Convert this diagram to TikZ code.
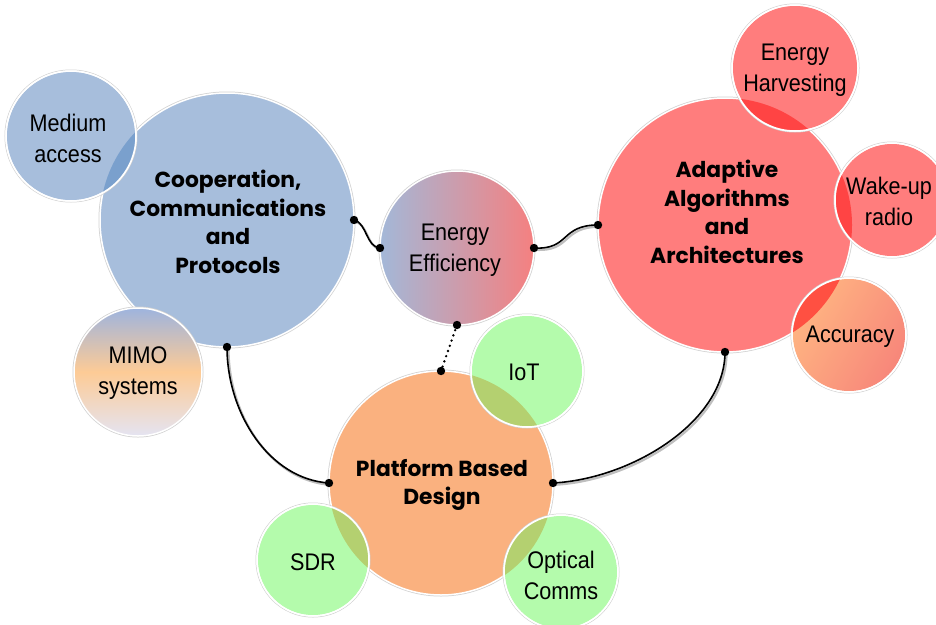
\documentclass[tikz,border=0pt]{standalone}
\usepackage{fontspec}
\setmainfont{Liberation Sans}[FakeStretch=0.9]
\newfontfamily\geo{Poppins}
\definecolor{cblue}{RGB}{167,190,220}
\definecolor{cbluelens}{RGB}{122,160,205}
\definecolor{cred}{RGB}{255,125,125}
\definecolor{credlens}{RGB}{255,68,68}
\definecolor{corange}{RGB}{250,177,127}
\definecolor{cgreen}{RGB}{180,251,172}
\definecolor{cgreenlens}{RGB}{180,208,112}
\definecolor{ceeL}{RGB}{163,184,216}
\definecolor{ceeR}{RGB}{245,128,128}
\definecolor{cmimoT}{RGB}{158,180,222}
\definecolor{cmimoM}{RGB}{253,203,150}
\definecolor{cmimoB}{RGB}{228,228,242}
\definecolor{caccA}{RGB}{255,182,130}
\definecolor{caccB}{RGB}{247,134,122}
\definecolor{cacclens}{RGB}{255,80,66}
\tikzset{
  bub/.style={circle, inner sep=0pt, outer sep=0pt, draw=white, line width=1.5pt,
    preaction={draw=black!18, line width=3pt}},
  lbl/.style={align=center, font=\fontsize{24}{31}\selectfont},
  blbl/.style={align=center, font=\geo\bfseries\fontsize{21.8}{28.5}\selectfont},
  con/.style={line width=1.6pt, black},
  conshadow/.style={line width=2.2pt, black!25, transform canvas={shift={(1.5pt,-1.8pt)}}},
  dotcon/.style={line width=2.6pt, line cap=round, dash pattern=on 0pt off 5.5pt},
  border/.style={draw=white, line width=1.5pt}
}
\begin{document}
\begin{tikzpicture}[x=1pt,y=-1pt]
\useasboundingbox (0,0) rectangle (936,624);
% big circles
\node[bub, fill=cblue, minimum size=254pt] (coop) at (227,220) {};
\node[bub, fill=cred, minimum size=254pt] (adapt) at (725,225) {};
\node[bub, fill=corange, minimum size=224pt] (plat) at (441,483) {};
\node[bub, left color=ceeL, right color=ceeR, minimum size=154pt] (ee) at (457,248) {};
% small circles
\node[bub, fill=cblue, minimum size=130pt] (ma) at (71,136) {};
\node[bub, top color=cmimoT, bottom color=cmimoB, middle color=cmimoM, minimum size=128pt] (mimo) at (138,372) {};
\node[bub, fill=cred, minimum size=126pt] (eh) at (795,68) {};
\node[bub, fill=cred, minimum size=114pt] (wake) at (892,200) {};
\node[bub, left color=caccA, right color=caccB, shading angle=60, minimum size=114pt] (acc) at (849,335) {};
\node[bub, fill=cgreen, minimum size=112pt] (iot) at (527,371) {};
\node[bub, fill=cgreen, minimum size=112pt] (sdr) at (313,560) {};
\node[bub, fill=cgreen, minimum size=114pt] (opt) at (561,572) {};
% overlaps
\begin{scope}
  \clip (coop.center) circle[radius=127];
  \fill[cbluelens] (ma.center) circle[radius=65];
\end{scope}
\begin{scope}
  \clip (adapt.center) circle[radius=127];
  \fill[credlens] (eh.center) circle[radius=63];
  \fill[credlens] (wake.center) circle[radius=57];
  \fill[cacclens] (acc.center) circle[radius=57];
\end{scope}
\begin{scope}
  \clip (plat.center) circle[radius=112];
  \fill[cgreenlens] (iot.center) circle[radius=56];
  \fill[cgreenlens] (sdr.center) circle[radius=56];
  \fill[cgreenlens] (opt.center) circle[radius=57];
\end{scope}
\draw[border] (ma.center) circle[radius=65];
\draw[border] (eh.center) circle[radius=63];
\draw[border] (wake.center) circle[radius=57];
\draw[border] (acc.center) circle[radius=57];
\draw[border] (iot.center) circle[radius=56];
\draw[border] (sdr.center) circle[radius=56];
\draw[border] (opt.center) circle[radius=57];
% connectors (shadows)
\draw[conshadow] (coop.east) .. controls +(13,3) and +(-14,-1) .. (ee.west);
\draw[conshadow] (ee.east) .. controls +(36,2) and +(-38,0) .. (adapt.west);
\draw[conshadow] (coop.south) .. controls +(0,66) and +(-60,-4) .. (plat.west);
\draw[conshadow] (adapt.south) .. controls +(0,70) and +(78,-4) .. (plat.east);
% connectors
\draw[con] (coop.east) .. controls +(13,3) and +(-14,-1) .. (ee.west);
\draw[con] (ee.east) .. controls +(36,2) and +(-38,0) .. (adapt.west);
\draw[con] (coop.south) .. controls +(0,66) and +(-60,-4) .. (plat.west);
\draw[con] (adapt.south) .. controls +(0,70) and +(78,-4) .. (plat.east);
\draw[dotcon] (ee.south) -- (plat.north);
\foreach \p in {coop.east, ee.west, ee.east, adapt.west, coop.south, plat.west, adapt.south, plat.east, ee.south, plat.north}
  \fill (\p) circle[radius=4.2];
% labels
\node[blbl] (tcoop) at (228,222) {Cooperation,\\Communications\\and\\Protocols};
\node[blbl] (tadapt) at (727,212) {Adaptive\\Algorithms\\and\\Architectures};
\node[blbl] (tplat) at (442,485) {Platform Based\\Design};
\node[lbl] (tee) at (455,250) {Energy\\Efficiency};
\node[lbl] (tma) at (68,138) {Medium\\access};
\node[lbl] (tmimo) at (138,373) {MIMO\\systems};
\node[lbl] (teh) at (795,70) {Energy\\Harvesting};
\node[lbl] (twake) at (889,201) {Wake-up\\radio};
\node[lbl] (tacc) at (850,337) {Accuracy};
\node[lbl] (tiot) at (524,372) {IoT};
\node[lbl] (tsdr) at (313,562) {SDR};
\node[lbl] (topt) at (561,575) {Optical\\Comms};
\end{tikzpicture}
\end{document}
